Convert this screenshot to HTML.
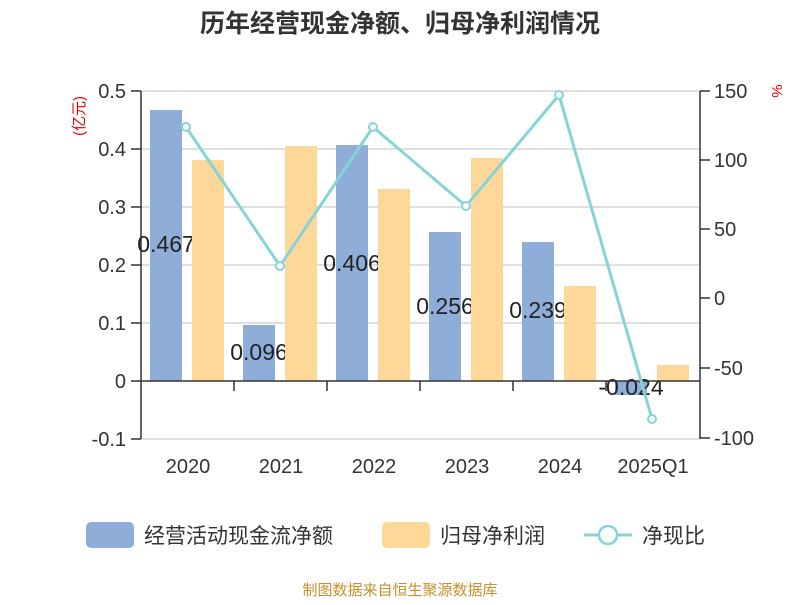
<!DOCTYPE html>
<html><head><meta charset="utf-8"><style>
body{margin:0;background:#fff;}
svg text{font-family:"Liberation Sans","Noto Sans CJK SC",sans-serif;}
</style></head><body>
<svg width="800" height="600" viewBox="0 0 800 600" xmlns="http://www.w3.org/2000/svg">
<rect width="800" height="600" fill="#fff"/>
<text x="400" y="32" text-anchor="middle" font-size="25" font-weight="bold" fill="#333">历年经营现金净额、归母净利润情况</text>
<g stroke="#ccc" stroke-width="1.3">
<line x1="141" y1="91" x2="700" y2="91"/>
<line x1="141" y1="149" x2="700" y2="149"/>
<line x1="141" y1="207" x2="700" y2="207"/>
<line x1="141" y1="265" x2="700" y2="265"/>
<line x1="141" y1="323" x2="700" y2="323"/>
<line x1="141" y1="439" x2="700" y2="439"/>
</g>
<g stroke="#333" stroke-width="1.5">
<line x1="141" y1="91" x2="141" y2="439"/>
<line x1="700" y1="91" x2="700" y2="439"/>
<line x1="131" y1="91" x2="141" y2="91"/><line x1="131" y1="149" x2="141" y2="149"/><line x1="131" y1="207" x2="141" y2="207"/><line x1="131" y1="265" x2="141" y2="265"/><line x1="131" y1="323" x2="141" y2="323"/><line x1="131" y1="381" x2="141" y2="381"/><line x1="131" y1="439" x2="141" y2="439"/>
<line x1="700" y1="91" x2="710" y2="91"/><line x1="700" y1="160" x2="710" y2="160"/><line x1="700" y1="229" x2="710" y2="229"/><line x1="700" y1="298" x2="710" y2="298"/><line x1="700" y1="368" x2="710" y2="368"/><line x1="700" y1="438" x2="710" y2="438"/>
</g>
<g font-size="20" fill="#333" text-anchor="end">
<text x="126" y="98">0.5</text><text x="126" y="156">0.4</text><text x="126" y="214">0.3</text><text x="126" y="272">0.2</text><text x="126" y="330">0.1</text><text x="126" y="388">0</text><text x="126" y="446">-0.1</text>
</g>
<g font-size="20" fill="#333" text-anchor="start">
<text x="714" y="98">150</text><text x="714" y="167">100</text><text x="714" y="236">50</text><text x="714" y="305">0</text><text x="714" y="375">-50</text><text x="714" y="445">-100</text>
</g>
<text transform="translate(84,116) rotate(-90)" text-anchor="middle" font-size="15" fill="#e00">(亿元)</text>
<text transform="translate(772,91) rotate(90)" text-anchor="middle" font-size="15" fill="#e00">%</text>
<g fill="#8eadd9">
<rect x="150" y="110" width="32" height="271"/>
<rect x="243" y="325" width="32" height="56"/>
<rect x="336" y="145" width="32" height="236"/>
<rect x="429" y="232" width="32" height="149"/>
<rect x="522" y="242" width="32" height="139"/>
<rect x="615" y="381" width="32" height="14"/>
</g>
<g font-size="23" fill="#222" text-anchor="middle">
<text x="166" y="252">0.467</text><text x="259" y="360">0.096</text><text x="352" y="271">0.406</text><text x="445" y="314">0.256</text><text x="538" y="318">0.239</text><text x="631" y="395">-0.024</text>
</g>
<g fill="#fed899">
<rect x="192" y="160" width="32" height="221"/>
<rect x="285" y="146" width="32" height="235"/>
<rect x="378" y="189" width="32" height="192"/>
<rect x="471" y="158" width="32" height="223"/>
<rect x="564" y="286" width="32" height="95"/>
<rect x="657" y="365" width="32" height="16"/>
</g>
<line x1="141" y1="381" x2="700" y2="381" stroke="#333" stroke-width="1.5"/>
<g stroke="#333" stroke-width="1.5">
<line x1="234" y1="381" x2="234" y2="391"/><line x1="327" y1="381" x2="327" y2="391"/><line x1="420" y1="381" x2="420" y2="391"/><line x1="513" y1="381" x2="513" y2="391"/><line x1="606" y1="381" x2="606" y2="391"/>
</g>
<polyline points="186,127 280,266 373,127 466,206 559,95 652,419" fill="none" stroke="#86d4d8" stroke-width="3"/>
<g fill="#fff" stroke="#86d4d8" stroke-width="2">
<circle cx="186" cy="127" r="4"/><circle cx="280" cy="266" r="4"/><circle cx="373" cy="127" r="4"/><circle cx="466" cy="206" r="4"/><circle cx="559" cy="95" r="4"/><circle cx="652" cy="419" r="4"/>
</g>
<g font-size="20" fill="#333" text-anchor="middle">
<text x="188" y="473">2020</text><text x="281" y="473">2021</text><text x="374" y="473">2022</text><text x="467" y="473">2023</text><text x="560" y="473">2024</text><text x="653" y="473">2025Q1</text>
</g>
<rect x="86" y="522" width="48" height="26" rx="5" fill="#8eadd9"/>
<text x="144" y="543" font-size="21" fill="#333">经营活动现金流净额</text>
<rect x="382" y="522" width="48" height="26" rx="5" fill="#fed899"/>
<text x="440" y="543" font-size="21" fill="#333">归母净利润</text>
<line x1="584" y1="535" x2="632" y2="535" stroke="#86d4d8" stroke-width="3"/>
<circle cx="608" cy="535" r="9" fill="#fff" stroke="#86d4d8" stroke-width="2.5"/>
<text x="642" y="543" font-size="21" fill="#333">净现比</text>
<text x="400" y="595" text-anchor="middle" font-size="15" fill="#c8902c">制图数据来自恒生聚源数据库</text>
</svg>
</body></html>
